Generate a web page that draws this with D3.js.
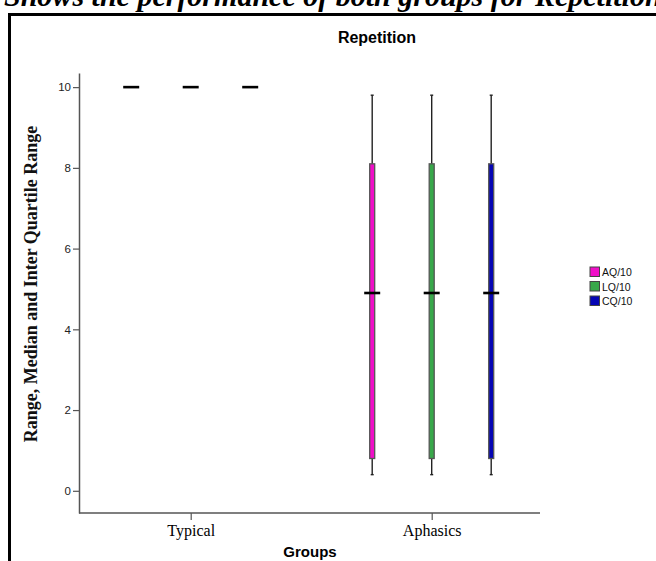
<!DOCTYPE html>
<html><head><meta charset="utf-8">
<script src="https://cdn.jsdelivr.net/npm/d3@7"></script>
<style>body{margin:0;background:#fff;}svg{display:block;}</style>
</head><body>
<svg id="c" width="656" height="561"></svg>
<script>
// ---- data ----
const groups = ["Typical", "Aphasics"];
const series = ["AQ/10", "LQ/10", "CQ/10"];
const colors = ["#f00fc8", "#38a84a", "#0505b4"];
// per series, per group: [min, q1, median, q3, max]
const typicalStats = [[10,10,10,10,10],[10,10,10,10,10],[10,10,10,10,10]];
const aphasicStats = [[0.4,0.8,4.9,8.1,9.8],[0.4,0.8,4.9,8.1,9.8],[0.4,0.8,4.9,8.1,9.8]];
const yTicks = [0, 2, 4, 6, 8, 10];

const svg = d3.select("#c");

// caption partially cut off above the frame (as in the reference)
svg.append("text").attr("x", 4).attr("y", 6)
  .attr("font-family", "Liberation Serif").attr("font-weight", "bold").attr("font-style", "italic")
  .attr("font-size", 30).attr("fill", "#000")
  .text("Shows the performance of both groups for Repetition");

// frame
svg.append("rect").attr("x", 9.5).attr("y", 14.5).attr("width", 700).attr("height", 600)
  .attr("fill", "#fff").attr("stroke", "#000").attr("stroke-width", 3);

const y = d3.scaleLinear().domain([-0.55, 10.35]).range([513, 73]);
const x = d3.scalePoint().domain(groups).range([190.7, 431.7]);
const sub = d3.scalePoint().domain(series).range([-59.5, 59.5]);

// title
svg.append("text").attr("x", 377).attr("y", 43).attr("text-anchor", "middle")
  .attr("font-family", "Liberation Sans").attr("font-weight", "bold").attr("font-size", 16)
  .text("Repetition");

// y axis
const ya = svg.append("g").attr("transform", "translate(79,0)")
  .call(d3.axisLeft(y).tickValues(yTicks).tickSize(6).tickSizeOuter(0).tickPadding(2));
ya.select(".domain").attr("stroke", "#555").attr("stroke-width", 1.5);
ya.selectAll(".tick line").attr("stroke", "#555").attr("stroke-width", 1.2);
ya.selectAll(".tick text").attr("font-family", "Liberation Sans").attr("font-size", 11.5).attr("fill", "#222");

// x axis
const xa = svg.append("g").attr("transform", "translate(0,513)")
  .call(d3.axisBottom(x).tickSize(7).tickPadding(5));
xa.select(".domain").remove();
xa.selectAll(".tick line").attr("stroke", "#555").attr("stroke-width", 1.2);
xa.selectAll(".tick text").attr("font-family", "Liberation Serif").attr("font-size", 16).attr("fill", "#000");
svg.append("line").attr("x1", 79).attr("x2", 540).attr("y1", 513).attr("y2", 513)
  .attr("stroke", "#555").attr("stroke-width", 1.5);

// axis titles
svg.append("text").attr("x", 310).attr("y", 557).attr("text-anchor", "middle")
  .attr("font-family", "Liberation Sans").attr("font-weight", "bold").attr("font-size", 15)
  .text("Groups");
svg.append("text").attr("transform", "translate(37,284) rotate(-90)").attr("text-anchor", "middle")
  .attr("font-family", "Liberation Serif").attr("font-weight", "bold").attr("font-size", 18)
  .attr("fill", "#111")
  .text("Range, Median and Inter Quartile Range");

// boxes
const boxes = [];
groups.forEach((g, gi) => {
  const stats = gi === 0 ? typicalStats : aphasicStats;
  series.forEach((s, si) => boxes.push({g, s, si, st: stats[si]}));
});
const bw = 5, mw = 16;
const bg = svg.append("g");
boxes.forEach(b => {
  const cx = x(b.g) + sub(b.s);
  const [mn, q1, md, q3, mx] = b.st;
  if (mx > mn) {
    bg.append("line").attr("x1", cx).attr("x2", cx).attr("y1", y(mx)).attr("y2", y(q3))
      .attr("stroke", "#222").attr("stroke-width", 1.4);
    bg.append("line").attr("x1", cx).attr("x2", cx).attr("y1", y(q1)).attr("y2", y(mn))
      .attr("stroke", "#222").attr("stroke-width", 1.4);
    [mx, mn].forEach(v => bg.append("line").attr("x1", cx - 1.5).attr("x2", cx + 1.5)
      .attr("y1", y(v)).attr("y2", y(v)).attr("stroke", "#222").attr("stroke-width", 1.4));
    bg.append("rect").attr("x", cx - bw / 2).attr("y", y(q3)).attr("width", bw).attr("height", y(q1) - y(q3))
      .attr("fill", colors[b.si]).attr("stroke", "#555").attr("stroke-width", 1.3);
  }
  bg.append("line").attr("x1", cx - mw / 2).attr("x2", cx + mw / 2).attr("y1", y(md)).attr("y2", y(md))
    .attr("stroke", "#000").attr("stroke-width", 2.6);
});

// legend
const lg = svg.append("g").attr("transform", "translate(590,267)");
series.forEach((s, i) => {
  const r = lg.append("g").attr("transform", `translate(0,${i * 14.5})`);
  r.append("rect").attr("x", 0).attr("y", 0).attr("width", 9.5).attr("height", 9.5)
    .attr("fill", colors[i]).attr("stroke", "#444").attr("stroke-width", 1);
  r.append("text").attr("x", 12).attr("y", 9).attr("font-family", "Liberation Sans")
    .attr("font-size", 10.5).attr("fill", "#111").text(s);
});
</script>
</body></html>
